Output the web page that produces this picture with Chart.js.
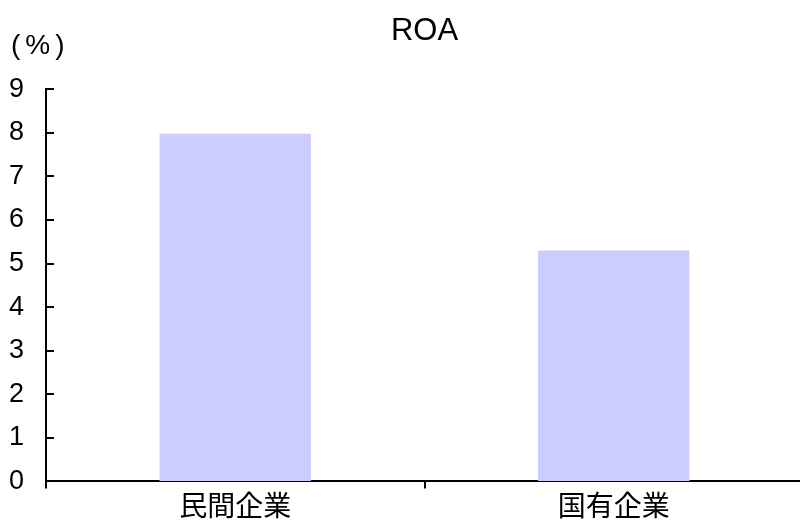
<!DOCTYPE html>
<html><head><meta charset="utf-8">
<script src="https://cdn.jsdelivr.net/npm/chart.js@4"></script>
<style>
html,body{margin:0;padding:0;background:#fff;overflow:hidden;}
#wrap{position:relative;width:800px;height:530px;overflow:hidden;background:#fff;}
#unit{position:absolute;left:11px;top:31px;font-size:28px;font-family:"Liberation Sans";letter-spacing:5px;color:#000;line-height:1;white-space:nowrap;}
canvas{position:absolute;left:0;top:0;}
</style></head><body>
<div id="wrap"><canvas id="c" width="806" height="530" style="width:806px;height:530px"></canvas><div id="unit">(%)</div></div>
<script>
const categories = ['民間企業', '国有企業'];
const roaValues = [7.98, 5.3];
const yMin = 0, yMax = 9, yStep = 1;
const chartTitle = 'ROA';

const innerTicks = {
  id: 'innerTicks',
  afterDraw(chart) {
    const y = chart.scales.y, ctx = chart.ctx;
    ctx.save();
    ctx.strokeStyle = '#000';
    ctx.lineWidth = 2;
    y.ticks.forEach((t, i) => {
      const py = Math.round(y.getPixelForTick(i));
      ctx.beginPath();
      ctx.moveTo(y.right, py);
      ctx.lineTo(y.right + 8, py);
      ctx.stroke();
    });
    ctx.restore();
  }
};

new Chart(document.getElementById('c'), {
  type: 'bar',
  data: {
    labels: categories,
    datasets: [{
      data: roaValues,
      backgroundColor: '#ccccff',
      borderWidth: 0,
      categoryPercentage: 1,
      barPercentage: 0.4
    }]
  },
  options: {
    responsive: false,
    animation: false,
    devicePixelRatio: 1,
    layout: { padding: { left: 8, right: 3, top: 0, bottom: 8 } },
    plugins: {
      legend: { display: false },
      tooltip: { enabled: false },
      title: {
        display: true,
        text: chartTitle,
        fullSize: false,
        color: '#000',
        font: { family: 'Liberation Sans', size: 31, weight: 'normal' },
        padding: { top: 13, bottom: 39 }
      }
    },
    scales: {
      x: {
        grid: { drawOnChartArea: false, drawTicks: true, tickLength: 7, color: '#000', lineWidth: 2, offset: true },
        border: { display: true, color: '#000', width: 2 },
        ticks: { color: '#000', font: { family: 'Noto Sans CJK JP', size: 28 }, padding: 0 }
      },
      y: {
        min: yMin, max: yMax,
        afterFit(scale) { scale.width = 38; },
        grid: { drawOnChartArea: false, drawTicks: false },
        border: { display: true, color: '#000', width: 2 },
        ticks: { stepSize: yStep, color: '#000', font: { family: 'Liberation Sans', size: 27 }, padding: 22 }
      }
    }
  },
  plugins: [innerTicks]
});
</script>
</body></html>
